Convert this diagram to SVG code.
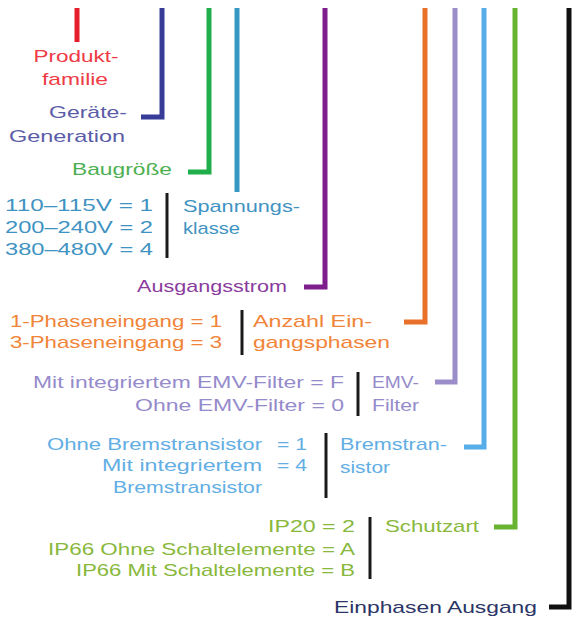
<svg xmlns="http://www.w3.org/2000/svg" width="572" height="619" viewBox="0 0 572 619">
<style>
text{font-family:"Liberation Sans",Arial,sans-serif;font-size:17px}
.ln{fill:none;stroke-width:5;stroke-linejoin:miter;stroke-linecap:butt}
.bar{stroke:#1a1a1a;stroke-width:3}
.red{fill:#ee3b45}.blu{fill:#5a5ca8}.grn{fill:#4cb052}.tea{fill:#3f93c2}
.pur{fill:#8a3c9e}.ora{fill:#f08438}.lav{fill:#958bcb}.lbl{fill:#62aee4}
.lim{fill:#88b83c}.blk{fill:#2b3566}
</style>
<rect width="572" height="619" fill="#ffffff"/>
<g id="connectors">
<path class="ln" stroke="#e41f2b" d="M77 8V42"/>
<path class="ln" stroke="#363c98" d="M162 8V117H141"/>
<path class="ln" stroke="#1fae4a" d="M209 8V172H188"/>
<path class="ln" stroke="#3697c2" d="M237 8V192"/>
<path class="ln" stroke="#7d1e8c" d="M325 8V287H304"/>
<path class="ln" stroke="#e8702a" d="M425 8V322H404"/>
<path class="ln" stroke="#9b8dc9" d="M455 8V382H435"/>
<path class="ln" stroke="#57ade8" d="M484 8V447H464"/>
<path class="ln" stroke="#66b430" d="M515 8V527H494"/>
<path class="ln" stroke="#111111" d="M569 8V607H549"/>
</g>
<g id="produktfamilie">
<text class="red" x="76" y="62" text-anchor="middle" textLength="85" lengthAdjust="spacingAndGlyphs">Produkt-</text>
<text class="red" x="75" y="85" text-anchor="middle" textLength="66" lengthAdjust="spacingAndGlyphs">familie</text>
</g>
<g id="generation">
<text class="blu" x="49" y="118" textLength="78" lengthAdjust="spacingAndGlyphs">Geräte-</text>
<text class="blu" x="9" y="142" textLength="116" lengthAdjust="spacingAndGlyphs">Generation</text>
</g>
<g id="baugroesse">
<text class="grn" x="72" y="175" textLength="100" lengthAdjust="spacingAndGlyphs">Baugröße</text>
</g>
<g id="spannungsklasse">
<text class="tea" x="5" y="211" textLength="148" lengthAdjust="spacingAndGlyphs">110–115V = 1</text>
<text class="tea" x="5" y="233" textLength="148" lengthAdjust="spacingAndGlyphs">200–240V = 2</text>
<text class="tea" x="5" y="255" textLength="148" lengthAdjust="spacingAndGlyphs">380–480V = 4</text>
<line class="bar" x1="167" y1="193" x2="167" y2="258"/>
<text class="tea" x="183" y="212" textLength="117" lengthAdjust="spacingAndGlyphs">Spannungs-</text>
<text class="tea" x="183" y="234" textLength="57" lengthAdjust="spacingAndGlyphs">klasse</text>
</g>
<g id="ausgangsstrom">
<text class="pur" x="137" y="292" textLength="150" lengthAdjust="spacingAndGlyphs">Ausgangsstrom</text>
</g>
<g id="eingangsphasen">
<text class="ora" x="10" y="327" textLength="212" lengthAdjust="spacingAndGlyphs">1-Phaseneingang = 1</text>
<text class="ora" x="10" y="348" textLength="212" lengthAdjust="spacingAndGlyphs">3-Phaseneingang = 3</text>
<line class="bar" x1="242" y1="310" x2="242" y2="355"/>
<text class="ora" x="253" y="327" textLength="119" lengthAdjust="spacingAndGlyphs">Anzahl Ein-</text>
<text class="ora" x="253" y="348" textLength="137" lengthAdjust="spacingAndGlyphs">gangsphasen</text>
</g>
<g id="emvfilter">
<text class="lav" x="33" y="388" textLength="311" lengthAdjust="spacingAndGlyphs">Mit integriertem EMV-Filter = F</text>
<text class="lav" x="135" y="411" textLength="209" lengthAdjust="spacingAndGlyphs">Ohne EMV-Filter = 0</text>
<line class="bar" x1="358" y1="372" x2="358" y2="416"/>
<text class="lav" x="372" y="388" textLength="47" lengthAdjust="spacingAndGlyphs">EMV-</text>
<text class="lav" x="372" y="411" textLength="47" lengthAdjust="spacingAndGlyphs">Filter</text>
</g>
<g id="bremstransistor">
<text class="lbl" x="47" y="450" textLength="215" lengthAdjust="spacingAndGlyphs">Ohne Bremstransistor</text>
<text class="lbl" x="277" y="450" textLength="30" lengthAdjust="spacingAndGlyphs">= 1</text>
<text class="lbl" x="102" y="471" textLength="160" lengthAdjust="spacingAndGlyphs">Mit integriertem</text>
<text class="lbl" x="277" y="471" textLength="30" lengthAdjust="spacingAndGlyphs">= 4</text>
<text class="lbl" x="113" y="493" textLength="149" lengthAdjust="spacingAndGlyphs">Bremstransistor</text>
<line class="bar" x1="326" y1="433" x2="326" y2="498"/>
<text class="lbl" x="340" y="450" textLength="107" lengthAdjust="spacingAndGlyphs">Bremstran-</text>
<text class="lbl" x="340" y="473" textLength="50" lengthAdjust="spacingAndGlyphs">sistor</text>
</g>
<g id="schutzart">
<text class="lim" x="268" y="532" textLength="87" lengthAdjust="spacingAndGlyphs">IP20 = 2</text>
<text class="lim" x="48" y="555" textLength="307" lengthAdjust="spacingAndGlyphs">IP66 Ohne Schaltelemente = A</text>
<text class="lim" x="76" y="576" textLength="279" lengthAdjust="spacingAndGlyphs">IP66 Mit Schaltelemente = B</text>
<line class="bar" x1="370" y1="517" x2="370" y2="579"/>
<text class="lim" x="385" y="532" textLength="94" lengthAdjust="spacingAndGlyphs">Schutzart</text>
</g>
<g id="einphasenausgang">
<text class="blk" x="334" y="613" textLength="203" lengthAdjust="spacingAndGlyphs">Einphasen Ausgang</text>
</g>
</svg>
